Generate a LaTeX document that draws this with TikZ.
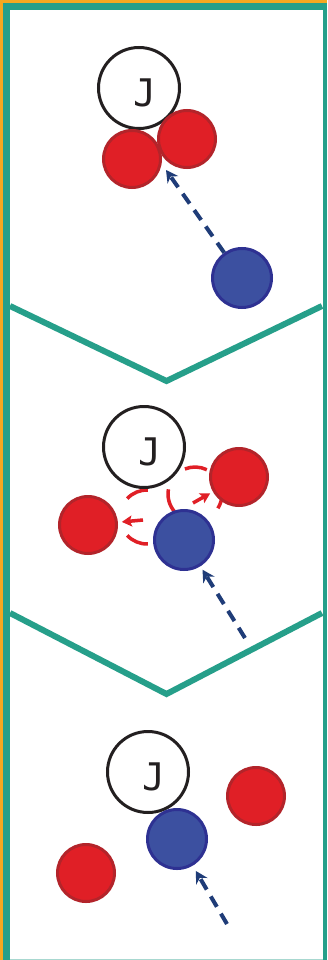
\documentclass[tikz,border=0pt]{standalone}
\usepackage{fontspec}
\newfontfamily\jfont{DejaVu Sans Mono}
\usepackage{xcolor}
\usepackage{tikz}
\usetikzlibrary{arrows.meta}
\definecolor{frameO}{RGB}{246,168,33}
\definecolor{frameT}{RGB}{38,159,138}
\definecolor{redfill}{RGB}{224,31,38}
\definecolor{redline}{RGB}{179,36,42}
\definecolor{bluefill}{RGB}{60,80,160}
\definecolor{blueline}{RGB}{46,49,146}
\definecolor{bluearr}{RGB}{31,60,120}
\definecolor{jline}{RGB}{35,31,32}

\begin{document}
\begin{tikzpicture}[x=1pt,y=-1pt,
    redball/.style={circle, fill=redfill, draw=redline, line width=3pt, minimum size=57pt, inner sep=0pt},
    blueball/.style={circle, fill=bluefill, draw=blueline, line width=3pt, minimum size=59pt, inner sep=0pt},
    jball/.style={circle, fill=white, draw=jline, line width=3pt, minimum size=81pt, inner sep=0pt},
    jtext/.style={text=jline, font=\jfont\fontsize{38}{38}\selectfont, inner sep=0pt},
    bluepath/.style={bluearr, line width=4pt, dash pattern=on 12pt off 8pt, -{Stealth[length=12pt,width=13pt,inset=4pt]}},
    redpath/.style={redfill, line width=3.5pt, -{Stealth[length=10pt,width=11pt,inset=2pt]}},
    redloop/.style={redfill, line width=3.5pt},
    chevron/.style={frameT, line width=6pt, line join=miter}]
  \useasboundingbox (0,0) rectangle (327,960);

  % --- frame ---
  \fill[frameO] (0,0) rectangle (327,960);
  \fill[frameT] (3,3) rectangle (327,960);
  \fill[white] (10,10) rectangle (322.5,959);
  \fill[frameT!40] (10,959) rectangle (322.5,960);

  % --- panel 1: ball comes in ---
  \node[jball] (j1) at (139,88) {};
  \node[jtext] (j1t) at (145,93) {J};
  \node[redball] (rl1) at (132,159) {};
  \node[redball] (rr1) at (187,139) {};
  \node[blueball] (b1) at (242,278) {};
  \coordinate (tip1) at (166,170);
  \draw[bluepath] (b1) -- (tip1);

  \draw[chevron] (10,306) -- (166.5,381) -- (322,306);

  % --- panel 2: the red balls are pushed away ---
  \draw[redloop] (147,517) ++(-137:27) arc[start angle=-137, end angle=-88, radius=27];
  \draw[redloop] (147,517) ++(88:27) arc[start angle=88, end angle=137, radius=27];
  \draw[redloop] (195,494) ++(-112:27) arc[start angle=-112, end angle=-64, radius=27];
  \draw[redloop] (195,494) ++(140:27) arc[start angle=140, end angle=190, radius=27];
  \draw[redloop] (195,494) ++(0:27) arc[start angle=0, end angle=32, radius=27];
  \node[jball] (j2) at (144,447) {};
  \node[jtext] (j2t) at (150,452) {J};
  \node[redball] (rr2) at (239,477) {};
  \node[redball] (rl2) at (88,525) {};
  \node[blueball] (b2) at (184,540) {};
  \coordinate (pl2) at (143,520);
  \coordinate (pr2) at (193,503);
  \draw[redpath, shorten >=4pt] (pl2) -- (rl2);
  \draw[redpath, shorten >=3pt] (pr2) -- (rr2);
  \coordinate (t2) at (245,638);
  \draw[bluepath, shorten >=4pt] (t2) -- (b2);

  \draw[chevron] (10,613) -- (166.5,694) -- (322,613);

  % --- panel 3: balls apart ---
  \node[jball] (j3) at (148,772) {};
  \node[jtext] (j3t) at (154,777) {J};
  \node[redball] (rr3) at (256,796) {};
  \node[redball] (rl3) at (86,873) {};
  \node[blueball] (b3) at (177,839) {};
  \coordinate (t3) at (227,924);
  \draw[bluepath, shorten >=6pt] (t3) -- (b3);
\end{tikzpicture}
\end{document}
